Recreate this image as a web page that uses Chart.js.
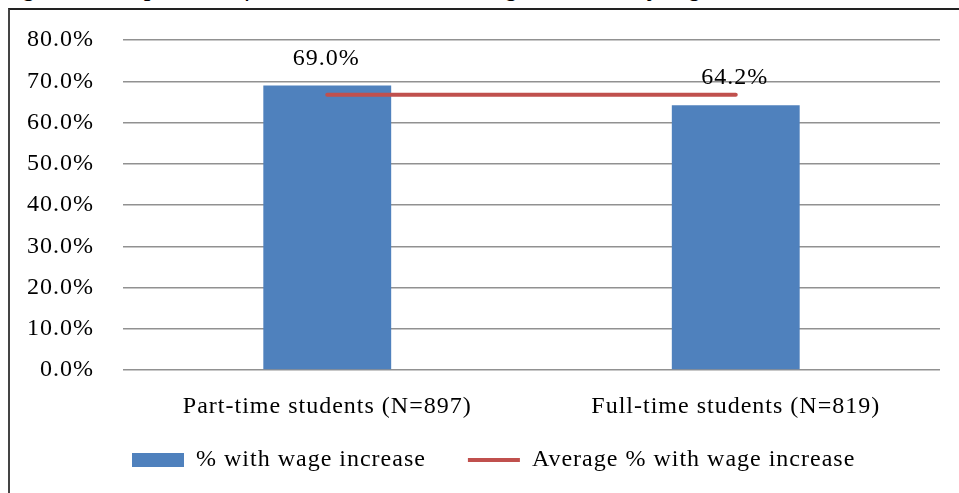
<!DOCTYPE html>
<html lang="en">
<head>
<meta charset="UTF-8" />
<title>Students with wage increase by registration status</title>
<script src="https://cdn.jsdelivr.net/npm/chart.js"></script>
<style>
  html, body { margin: 0; padding: 0; background: #fff; overflow: hidden; }
  body { width: 959px; height: 493px; position: relative; font-family: "Liberation Serif", serif; }
  .caption {
    position: absolute; left: 0; top: -27px; white-space: nowrap;
    font-style: italic; font-size: 27px; line-height: 27px; color: #000;
  }
  .frame {
    position: absolute; left: 8px; top: 8px; width: 1000px; height: 600px;
    border-left: 2px solid #444; border-top: 2px solid #222;
  }
  #chart { position: absolute; left: 10px; top: 10px; }
</style>
</head>
<body>

<div class="caption">Figure 4. Proportion of SMTI students with wage increase by registration status</div>
<div class="frame"></div>
<canvas id="chart" width="949" height="483"></canvas>

<script>
  const categories = ["Part-time students (N=897)", "Full-time students (N=819)"];
  const wageIncrease = [69.0, 64.2];
  const averageIncrease = [66.7, 66.7];
  const yTicks = { min: 0, max: 80, step: 10 };

  // value labels above the bars
  const barLabels = {
    id: 'barLabels',
    afterDatasetsDraw(chart) {
      const ctx = chart.ctx;
      const meta = chart.getDatasetMeta(0);
      ctx.save();
      ctx.font = '24px "Liberation Serif"';
      ctx.fillStyle = '#000';
      ctx.textAlign = 'center';
      ctx.textBaseline = 'middle';
      meta.data.forEach((bar, i) => {
        ctx.fillText(wageIncrease[i].toFixed(1) + '%', bar.x - 1, bar.y - 27);
      });
      ctx.restore();
    }
  };

  // slightly wider letter spacing for the serif text
  const spacing = {
    id: 'spacing',
    beforeLayout(chart) { chart.ctx.letterSpacing = '1px'; },
    beforeDraw(chart) { chart.ctx.letterSpacing = '1px'; }
  };

  // put the legend row under the plot, starting below the first bar
  const legendPlace = {
    id: 'legendPlace',
    afterLayout(chart) {
      const lg = chart.legend;
      lg.left = 80;
      lg.right = chart.width;
      lg.top = 396;
      lg.bottom = chart.height;
    }
  };

  Chart.defaults.font.family = '"Liberation Serif", serif';
  Chart.defaults.font.size = 24;
  Chart.defaults.color = '#000';

  new Chart(document.getElementById('chart'), {
    type: 'bar',
    data: {
      labels: categories,
      datasets: [
        {
          label: '% with wage increase',
          data: wageIncrease,
          backgroundColor: '#4F81BD',
          borderWidth: 0,
          pointStyle: 'rect',
          categoryPercentage: 1,
          barPercentage: 0.313,
          order: 1
        },
        {
          type: 'line',
          label: 'Average % with wage increase',
          data: averageIncrease,
          borderColor: '#C0504D',
          backgroundColor: '#C0504D',
          borderWidth: 4,
          borderCapStyle: 'round',
          pointRadius: 0,
          pointStyle: 'line',
          fill: false,
          order: 0
        }
      ]
    },
    options: {
      responsive: false,
      animation: false,
      layout: { padding: { left: 0, right: 19, top: 30, bottom: 0 } },
      scales: {
        x: {
          grid: { display: false },
          border: { display: false },
          ticks: { padding: 14 },
          afterFit(scale) { scale.height = 73; }
        },
        y: {
          min: yTicks.min,
          max: yTicks.max,
          border: { display: false },
          grid: { color: '#919191', lineWidth: 1.5, drawTicks: false },
          ticks: {
            stepSize: yTicks.step,
            padding: 29,
            callback: v => v.toFixed(1) + '%'
          },
          afterFit(scale) {
            scale.width = 113;
            scale.paddingTop = 0;
            scale.paddingBottom = 0;
          }
        }
      },
      plugins: {
        legend: {
          position: 'bottom',
          align: 'start',
          maxHeight: 50,
          labels: {
            usePointStyle: true,
            pointStyleWidth: 52,
            boxHeight: 14,
            padding: 42,
            color: '#000',
            sort: (a, b) => a.datasetIndex - b.datasetIndex
          }
        },
        tooltip: { enabled: false }
      }
    },
    plugins: [spacing, legendPlace, barLabels]
  });
</script>

</body>
</html>
